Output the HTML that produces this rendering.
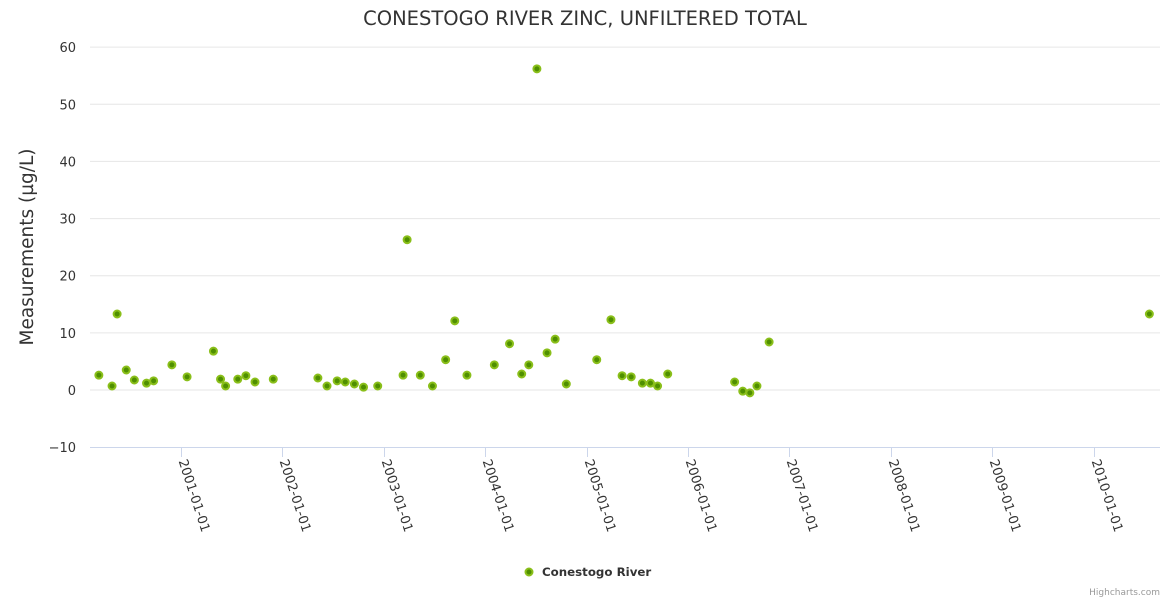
<!DOCTYPE html>
<html><head><meta charset="utf-8"><style>
body{margin:0;background:#fff;}
svg{display:block;font-family:"DejaVu Sans","Liberation Sans",sans-serif;}
</style></head><body>
<svg id="chart" width="1170" height="600">
<text x="585" y="25" text-anchor="middle" font-size="19.5" fill="#333">CONESTOGO RIVER ZINC, UNFILTERED TOTAL</text>
<text transform="translate(33,247) rotate(-90)" text-anchor="middle" font-size="18.5" fill="#333">Measurements (µg/L)</text>
<g id="grid"></g><g id="xaxis"></g><g id="points"></g>
<g>
<circle cx="529" cy="572" r="3.5" fill="#4f8f00" stroke="#8abf1a" stroke-width="2"/>
<text x="542" y="576" font-size="11.8" font-weight="bold" fill="#333">Conestogo River</text>
</g>
<text x="1160" y="595" text-anchor="end" font-size="9" fill="#999">Highcharts.com</text>
</svg>
<script>
const dates=[2000.19,2000.32,2000.37,2000.46,2000.54,2000.66,2000.73,2000.91,2001.06,2001.32,2001.39,2001.44,2001.56,2001.64,2001.73,2001.91,2002.35,2002.44,2002.54,2002.62,2002.71,2002.80,2002.94,2003.19,2003.23,2003.36,2003.48,2003.61,2003.70,2003.82,2004.09,2004.24,2004.36,2004.43,2004.51,2004.61,2004.69,2004.80,2005.10,2005.24,2005.35,2005.44,2005.55,2005.63,2005.70,2005.80,2006.46,2006.54,2006.61,2006.68,2006.80,2010.55];
const values=[2.6,0.7,13.3,3.5,1.75,1.2,1.6,4.4,2.3,6.8,1.9,0.7,1.9,2.5,1.4,1.9,2.1,0.7,1.6,1.4,1.05,0.5,0.7,2.6,26.3,2.6,0.7,5.3,12.1,2.6,4.4,8.1,2.8,4.4,56.2,6.5,8.9,1.05,5.3,12.3,2.5,2.3,1.2,1.2,0.7,2.8,1.4,-0.2,-0.5,0.7,8.4,13.3];
const yTicks=[60,50,40,30,20,10,0,-10];
const xTickYears=[2001,2002,2003,2004,2005,2006,2007,2008,2009,2010];
const NS="http://www.w3.org/2000/svg";
const X0=90,X1=1160;
const xs=v=>181+(v-2001)*101.4;
const ys=v=>390-v*(400/70);
function mk(t,a,p){const e=document.createElementNS(NS,t);for(const k in a)e.setAttribute(k,a[k]);p.appendChild(e);return e;}
const grid=document.getElementById('grid');
yTicks.forEach(v=>{
 if(v>-10){const l=mk('line',{x1:X0,x2:X1,y1:ys(v),y2:ys(v),stroke:'#e6e6e6','stroke-width':1},grid);
 
 }
 const t=mk('text',{x:76,y:ys(v)+5,'text-anchor':'end','font-size':13,fill:'#333'},grid);
 t.textContent=v<0?'−'+(-v):String(v);
 
 
});
const xa=document.getElementById('xaxis');
const al=mk('line',{x1:X0,x2:X1,y1:447.5,y2:447.5,stroke:'#ccd6eb','stroke-width':1},xa);


xTickYears.forEach(y=>{
 const x=Math.round(xs(y))+0.5;
 const tk=mk('line',{x1:x,x2:x,y1:447,y2:457,stroke:'#ccd6eb'},xa);
 
 
 const t=mk('text',{transform:`translate(${x-3},${461}) rotate(72)`,'font-size':13,fill:'#333'},xa);
 t.textContent=y+'-01-01';
 
 
});
const pg=document.getElementById('points');
dates.forEach((d,i)=>{
 const c=mk('circle',{cx:xs(d),cy:ys(values[i]),r:3.5,fill:'#4f8f00',stroke:'#8abf1a','stroke-width':2},pg);
 
 
});
</script>
</body></html>
